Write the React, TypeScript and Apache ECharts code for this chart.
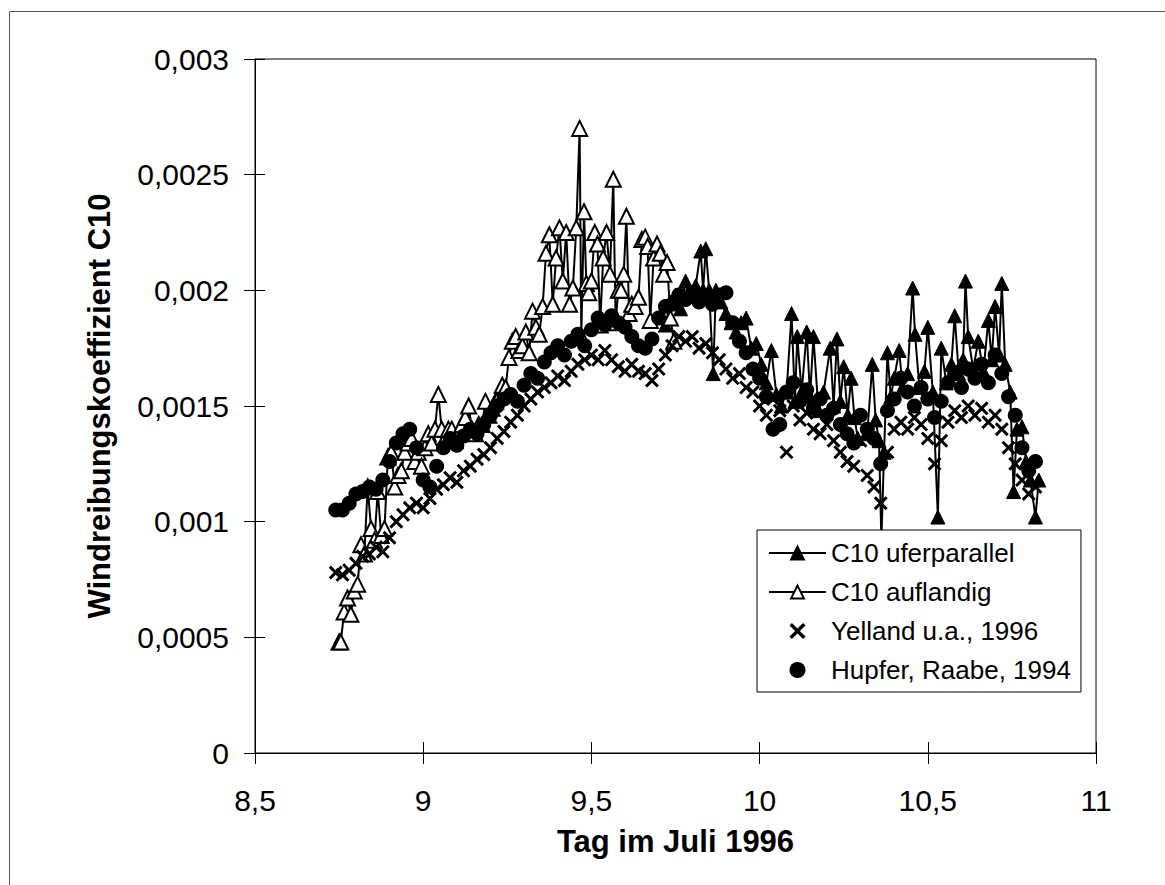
import React, { useEffect, useRef } from "react";
import * as echarts from "echarts";

// ---- data (C10 values stored in units of 1e-4) ----
const timeGrid = [
  8.74, 8.76, 8.78, 8.80, 8.82, 8.84, 8.86, 8.88, 8.90, 8.92,
  8.94, 8.96, 8.98, 9.00, 9.02, 9.04, 9.06, 9.08, 9.10, 9.12,
  9.14, 9.16, 9.18, 9.20, 9.22, 9.24, 9.26, 9.28, 9.30, 9.32,
  9.34, 9.36, 9.38, 9.40, 9.42, 9.44, 9.46, 9.48, 9.50, 9.52,
  9.54, 9.56, 9.58, 9.60, 9.62, 9.64, 9.66, 9.68, 9.70, 9.72,
  9.74, 9.76, 9.78, 9.80, 9.82, 9.84, 9.86, 9.88, 9.90, 9.92,
  9.94, 9.96, 9.98, 10.00, 10.02, 10.04, 10.06, 10.08, 10.10, 10.12,
  10.14, 10.16, 10.18, 10.20, 10.22, 10.24, 10.26, 10.28, 10.30, 10.32,
  10.34, 10.36, 10.38, 10.40, 10.42, 10.44, 10.46, 10.48, 10.50, 10.52,
  10.54, 10.56, 10.58, 10.60, 10.62, 10.64, 10.66, 10.68, 10.70, 10.72,
  10.74, 10.76, 10.78, 10.80, 10.82,
];

const yellandE4 = [
  7.8, 7.7, 7.9, 8.2, 8.5, 8.6, 8.9, 8.7, 9.3, 10.0,
  10.3, 10.6, 10.8, 10.6, 11.0, 11.4, 11.6, 11.9, 11.7, 12.2,
  12.4, 12.7, 12.9, 13.2, 13.6, 13.9, 14.3, 14.6, 15.0, 15.3,
  15.6, 15.8, 16.0, 16.3, 16.1, 16.5, 16.8, 17.0, 17.2, 17.0,
  17.4, 17.0, 16.7, 16.5, 16.8, 16.5, 16.4, 16.1, 16.6, 17.2,
  17.6, 18.0, 17.8, 18.0, 17.5, 17.7, 17.3, 17.0, 16.6, 16.2,
  16.4, 15.8, 15.6, 15.0, 14.6, 15.3, 14.8, 13.0, 15.0, 14.4,
  14.7, 14.0, 13.8, 14.2, 13.5, 13.0, 12.6, 12.4, 13.5, 12.0,
  11.5, 10.8, 13.0, 14.0, 14.3, 14.0, 14.5, 14.2, 13.6, 12.5,
  13.5, 14.3, 14.8, 14.5, 15.0, 14.6, 14.9, 14.3, 14.6, 14.0,
  13.2, 12.5, 11.8, 11.2, 11.5,
];

const hupferE4 = [
  10.5, 10.5, 10.8, 11.2, 11.3, 11.5, 11.4, 11.8, 12.6, 13.4,
  13.8, 14.0, 13.2, 11.8, 11.5, 12.4, 13.2, 13.6, 13.3, 13.7,
  14.0, 13.8, 14.2, 14.6, 15.0, 15.3, 15.5, 15.2, 15.9, 16.4,
  16.2, 16.9, 17.3, 17.6, 17.2, 17.8, 18.1, 17.6, 18.3, 18.8,
  18.5, 18.9, 18.6, 18.4, 18.0, 17.6, 17.5, 17.9, 18.8, 19.3,
  19.4, 19.8, 19.6, 19.9, 19.5, 19.7, 19.4, 19.8, 19.9, 18.6,
  17.8, 17.3, 16.6, 16.2, 15.4, 14.0, 14.2, 15.6, 16.0, 15.2,
  15.7, 14.9, 15.3, 14.6, 14.9, 14.2, 13.8, 13.4, 14.6, 14.0,
  13.6, 12.5, 14.8, 15.3, 16.2, 15.6, 15.0, 15.8, 15.3, 14.5,
  15.2, 16.0, 16.4, 15.8, 16.6, 16.2, 16.8, 16.0, 17.2, 16.4,
  15.4, 14.6, 13.2, 12.2, 12.6,
];

const aufTime = [
  8.750, 8.755, 8.765, 8.775, 8.785, 8.795, 8.805, 8.815, 8.825, 8.835,
  8.845, 8.855, 8.865, 8.875, 8.885, 8.895, 8.905, 8.915, 8.925, 8.935,
  8.945, 8.955, 8.965, 8.975, 8.985, 8.995, 9.005, 9.015, 9.025, 9.035,
  9.045, 9.055, 9.065, 9.075, 9.085, 9.095, 9.105, 9.115, 9.125, 9.135,
  9.145, 9.155, 9.165, 9.175, 9.185, 9.195, 9.205, 9.215, 9.225, 9.235,
  9.245, 9.255, 9.265, 9.275, 9.285, 9.295, 9.305, 9.315, 9.325, 9.335,
  9.345, 9.355, 9.365, 9.375, 9.385, 9.395, 9.405, 9.415, 9.425, 9.435,
  9.445, 9.455, 9.465, 9.470, 9.478, 9.485, 9.492, 9.500, 9.510, 9.518,
  9.526, 9.535, 9.545, 9.555, 9.565, 9.572, 9.580, 9.588, 9.596, 9.604,
  9.612, 9.620, 9.630, 9.640, 9.650, 9.660, 9.667, 9.675, 9.685, 9.695,
  9.705, 9.715, 9.725, 9.735, 9.745,
];
const aufE4 = [
  4.8, 4.8, 6.1, 6.7, 6.0, 7.0, 7.3, 9.0, 8.6, 11.5,
  9.7, 9.2, 11.3, 9.4, 9.7, 12.8, 13.0, 11.5, 12.0, 12.2,
  13.0, 13.4, 13.6, 12.6, 13.0, 12.4, 13.2, 13.8, 13.4, 14.0,
  15.5, 14.0, 13.6, 14.0, 14.0, 13.5, 13.8, 14.2, 14.5, 15.0,
  14.0, 13.8, 14.2, 14.2, 15.2, 14.6, 14.9, 15.2, 15.4, 15.9,
  15.8, 17.1, 17.8, 18.0, 17.4, 17.6, 18.2, 17.3, 19.1, 18.4,
  18.1, 19.3, 21.6, 22.4, 19.4, 21.4, 22.7, 20.4, 22.5, 19.4,
  20.1, 22.7, 27.0, 18.0, 23.4, 20.3, 19.9, 20.4, 22.5, 22.0,
  18.5, 21.4, 22.5, 20.7, 24.8, 18.6, 20.0, 20.0, 20.7, 23.2,
  19.0, 19.4, 19.3, 19.7, 22.2, 22.3, 21.9, 18.7, 21.4, 22.0,
  21.6, 20.7, 21.2, 18.8, 17.8,
];

const uferTime = [
  9.720, 9.735, 9.750, 9.765, 9.780, 9.795, 9.810, 9.825, 9.832, 9.840,
  9.850, 9.862, 9.870, 9.885, 9.900, 9.915, 9.930, 9.945, 9.960, 9.975,
  9.990, 10.005, 10.020, 10.035, 10.050, 10.065, 10.080, 10.095, 10.105, 10.112,
  10.125, 10.140, 10.150, 10.160, 10.175, 10.190, 10.210, 10.220, 10.230, 10.240,
  10.250, 10.262, 10.272, 10.282, 10.292, 10.320, 10.335, 10.345, 10.355, 10.362,
  10.370, 10.380, 10.390, 10.400, 10.415, 10.425, 10.440, 10.455, 10.462, 10.475,
  10.490, 10.500, 10.515, 10.530, 10.540, 10.555, 10.570, 10.580, 10.592, 10.605,
  10.612, 10.620, 10.635, 10.650, 10.665, 10.680, 10.690, 10.700, 10.712, 10.720,
  10.730, 10.745, 10.755, 10.765, 10.780, 10.792, 10.805, 10.820, 10.830,
];
const uferE4 = [
  18.5, 19.5, 19.8, 19.2, 20.4, 19.8, 20.2, 21.7, 20.0, 21.8,
  20.0, 16.4, 20.0, 19.5, 19.0, 18.6, 18.2, 18.6, 18.8, 17.5,
  17.7, 16.8, 16.0, 17.4, 15.5, 15.0, 15.6, 19.0, 15.2, 18.0,
  15.6, 18.2, 15.4, 18.0, 14.8, 15.6, 17.5, 15.0, 17.9, 15.2,
  16.7, 14.6, 16.2, 14.5, 13.6, 13.8, 16.8, 14.4, 13.5, 9.2,
  13.0, 17.3, 15.4, 16.2, 17.4, 15.8, 16.4, 20.1, 18.1, 15.8,
  16.5, 18.4, 15.6, 10.2, 17.5, 16.0, 16.8, 18.9, 16.4, 17.0,
  20.4, 18.0, 16.6, 17.8, 16.5, 18.7, 17.0, 19.3, 17.2, 20.3,
  16.8, 15.6, 11.3, 14.0, 14.1, 12.6, 11.8, 10.2, 11.8,
];

const xTickLabels = ["8,5", "9", "9,5", "10", "10,5", "11"];
const yTickLabels = ["0", "0,0005", "0,001", "0,0015", "0,002", "0,0025", "0,003"];
const seriesNames = [
  "C10 uferparallel",
  "C10 auflandig",
  "Yelland u.a., 1996",
  "Hupfer, Raabe, 1994",
];
const xTitle = "Tag im Juli 1996";
const yTitle = "Windreibungskoeffizient C10";

const FONT = "'Liberation Sans', Arial, sans-serif";
const X_SYMBOL =
  "path://M0,1.5L1.5,0L5,3.5L8.5,0L10,1.5L6.5,5L10,8.5L8.5,10L5,6.5L1.5,10L0,8.5L3.5,5Z";

const toPairs = (t: number[], v: number[]) => t.map((x, i) => [x, v[i] / 1e4]);

export default function App() {
  const ref = useRef<HTMLDivElement>(null);

  useEffect(() => {
    if (!ref.current) return;
    const chart = echarts.init(ref.current, undefined, { renderer: "svg" });

    const xBase = { type: "value" as const, min: 8.5, max: 11, interval: 0.5, gridIndex: 0 };
    const yBase = { type: "value" as const, min: 0, max: 0.003, interval: 0.0005, gridIndex: 0 };

    chart.setOption({
      animation: false,
      backgroundColor: "#fff",
      textStyle: { fontFamily: FONT, color: "#000" },
      grid: {
        left: 255,
        top: 59,
        width: 841,
        height: 694,
        show: true,
        borderColor: "#000",
        borderWidth: 1,
        backgroundColor: "transparent",
      },
      graphic: [
        {
          type: "rect",
          silent: true,
          shape: { x: 9.5, y: 11.5, width: 1200, height: 900 },
          style: { fill: "none", stroke: "#555", lineWidth: 1 },
        },
      ],
      xAxis: [
        {
          ...xBase,
          axisLine: { show: true, onZero: false, lineStyle: { color: "#000", width: 1 } },
          axisTick: { show: true, length: 11, lineStyle: { color: "#000", width: 1 } },
          axisLabel: {
            formatter: (v: number) => xTickLabels[Math.round((v - 8.5) / 0.5)],
            fontSize: 30,
            color: "#000",
            fontFamily: FONT,
            margin: 32,
          },
          splitLine: { show: false },
          name: xTitle,
          nameLocation: "middle",
          nameGap: 73,
          nameTextStyle: { fontSize: 31, fontWeight: "bold", color: "#000", fontFamily: FONT },
        },
        {
          ...xBase,
          position: "bottom",
          axisLine: { show: false },
          axisTick: { show: true, inside: true, length: 11, lineStyle: { color: "#000", width: 1 } },
          axisLabel: { show: false },
          splitLine: { show: false },
        },
      ],
      yAxis: [
        {
          ...yBase,
          axisLine: { show: true, onZero: false, lineStyle: { color: "#000", width: 1 } },
          axisTick: { show: true, length: 11, lineStyle: { color: "#000", width: 1 } },
          axisLabel: {
            formatter: (v: number) => yTickLabels[Math.round(v / 0.0005)],
            fontSize: 30,
            color: "#000",
            fontFamily: FONT,
            margin: 26,
          },
          splitLine: { show: false },
          name: yTitle,
          nameLocation: "middle",
          nameGap: 140,
          nameTextStyle: { fontSize: 31, fontWeight: "bold", color: "#000", fontFamily: FONT },
        },
        {
          ...yBase,
          position: "left",
          axisLine: { show: false },
          axisTick: { show: true, inside: true, length: 10, lineStyle: { color: "#000", width: 1 } },
          axisLabel: { show: false },
          splitLine: { show: false },
        },
      ],
      legend: {
        orient: "vertical",
        left: 757,
        top: 530,
        backgroundColor: "#fff",
        borderColor: "#000",
        borderWidth: 1,
        borderRadius: 0,
        padding: [10, 10, 9, 11],
        itemWidth: 57,
        itemHeight: 16,
        itemGap: 13,
        textStyle: { fontFamily: FONT, fontSize: 26, color: "#000", lineHeight: 26 },
        data: seriesNames,
        selectedMode: false,
      },
      series: [
        {
          name: seriesNames[0],
          type: "line",
          data: toPairs(uferTime, uferE4),
          symbol: "triangle",
          symbolSize: 14,
          showSymbol: true,
          itemStyle: { color: "#000", borderColor: "#000", borderWidth: 1, opacity: 1 },
          lineStyle: { color: "#000", width: 2 },
          z: 2,
        },
        {
          name: seriesNames[1],
          type: "line",
          data: toPairs(aufTime, aufE4),
          symbol: "triangle",
          symbolSize: 15,
          showSymbol: true,
          itemStyle: { color: "#fff", borderColor: "#000", borderWidth: 2, opacity: 1 },
          lineStyle: { color: "#000", width: 2 },
          z: 3,
        },
        {
          name: seriesNames[2],
          type: "scatter",
          data: toPairs(timeGrid, yellandE4),
          symbol: X_SYMBOL,
          symbolSize: 14,
          symbolKeepAspect: true,
          itemStyle: { color: "#000", opacity: 1 },
          z: 4,
        },
        {
          name: seriesNames[3],
          type: "scatter",
          data: toPairs(timeGrid, hupferE4),
          symbol: "circle",
          symbolSize: 15,
          itemStyle: { color: "#000", opacity: 1 },
          z: 5,
        },
      ],
    });

    return () => chart.dispose();
  }, []);

  return (
    <div
      ref={ref}
      style={{ position: "absolute", left: 0, top: 0, width: 1165, height: 885, background: "#fff" }}
    />
  );
}
